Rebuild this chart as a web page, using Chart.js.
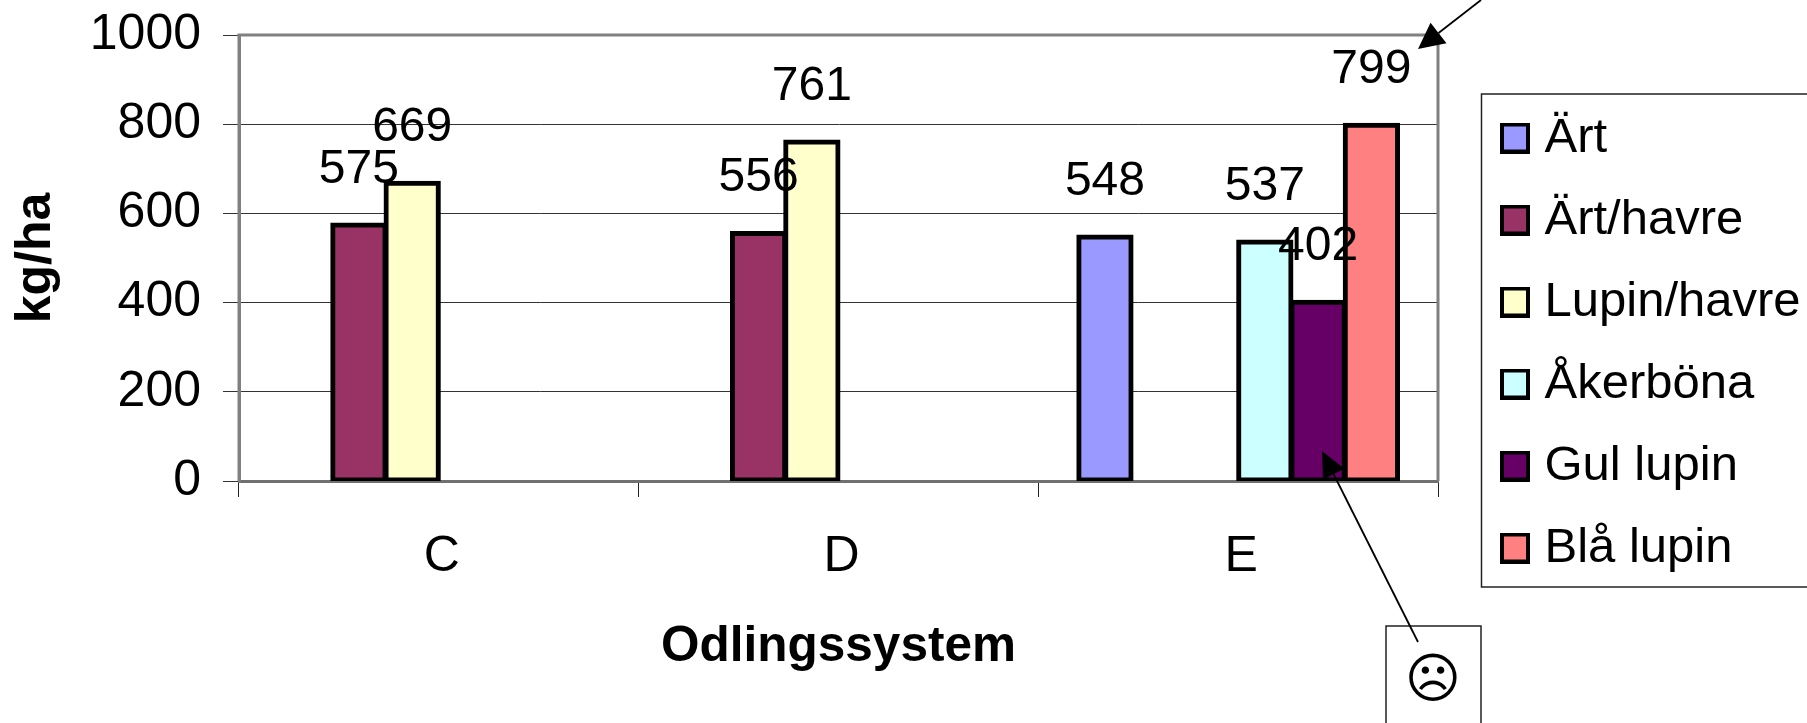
<!DOCTYPE html>
<html><head><meta charset="utf-8">
<style>html,body{margin:0;padding:0;background:#fff}canvas{display:block}</style>
<script src="https://cdn.jsdelivr.net/npm/chart.js@4"></script>
</head><body><canvas id="c" width="1807" height="723"></canvas>
<script>
const categories = ['C','D','E'];
const seriesNames = ['Ärt','Ärt/havre','Lupin/havre','Åkerböna','Gul lupin','Blå lupin'];
const art = [null,null,548];
const artHavre = [575,556,null];
const lupinHavre = [669,761,null];
const akerbona = [null,null,537];
const gulLupin = [null,null,402];
const blaLupin = [null,null,799];
const colors = ['#9999FF','#993366','#FFFFCC','#CCFFFF','#660066','#FF8080'];
const yTicks = [0,200,400,600,800,1000];
const FONT = '"Liberation Sans", Arial, sans-serif';

function swatch(color){
  const cv=document.createElement('canvas');cv.width=30;cv.height=31;
  const x=cv.getContext('2d');x.fillStyle=color;x.fillRect(0,0,30,31);
  x.strokeStyle='#000';x.lineWidth=4;x.strokeRect(2,2,26,27);return cv;
}
const swatches=colors.map(swatch);

function arrow(ctx,x0,y0,x1,y1,len,half){
  const a=Math.atan2(y1-y0,x1-x0);
  const bx=x1-len*Math.cos(a),by=y1-len*Math.sin(a);
  ctx.beginPath();ctx.moveTo(x0,y0);ctx.lineTo(bx,by);ctx.strokeStyle='#000';ctx.lineWidth=1.8;ctx.stroke();
  ctx.beginPath();ctx.moveTo(x1,y1);
  ctx.lineTo(bx-half*Math.sin(a),by+half*Math.cos(a));
  ctx.lineTo(bx+half*Math.sin(a),by-half*Math.cos(a));
  ctx.closePath();ctx.fillStyle='#000';ctx.fill();
}

const decor={
  id:'decor',
  afterLayout(chart){
    const l=chart.legend;
    l.left=1477;l.top=80.5;l.right=1807;l.bottom=640;l.width=330;l.height=560;
    if(l.adjustHitBoxes) l.adjustHitBoxes();
  },
  beforeDatasetsDraw(chart){
    const {ctx,chartArea:a}=chart;
    ctx.save();
    ctx.strokeStyle='#808080';ctx.lineWidth=3;
    ctx.beginPath();ctx.moveTo(a.left,a.bottom);ctx.lineTo(a.left,a.top);ctx.lineTo(a.right,a.top);ctx.lineTo(a.right,a.bottom);ctx.stroke();
    ctx.restore();
  },
  afterDraw(chart){
    const {ctx}=chart;
    ctx.save();
    ctx.font='48px '+FONT;ctx.fillStyle='#000';ctx.textAlign='center';ctx.textBaseline='middle';
    chart.data.datasets.forEach((d,i)=>{
      chart.getDatasetMeta(i).data.forEach((el,j)=>{
        if(d.data[j]==null)return;
        ctx.fillText(String(d.data[j]),el.x,el.y-55);
      });
    });
    ctx.strokeStyle='#222';ctx.lineWidth=1.5;
    ctx.strokeRect(1481.5,94,400,493);
    ctx.strokeRect(1386,626,95,200);
    ctx.font='54px "DejaVu Sans"';
    ctx.fillText('☹',1433,683);
    arrow(ctx,1481,0,1418,49,26,13);
    arrow(ctx,1418,642,1322,451,26,12);
    ctx.restore();
  }
};

const chart=new Chart(document.getElementById('c'),{
  type:'bar',
  data:{labels:categories,datasets:[art,artHavre,lupinHavre,akerbona,gulLupin,blaLupin].map((v,i)=>({
    label:seriesNames[i],data:v,backgroundColor:colors[i],borderColor:'#000',borderWidth:5,borderSkipped:false,inflateAmount:2,
    categoryPercentage:0.8,barPercentage:1
  }))},
  options:{
    responsive:false,animation:false,devicePixelRatio:1,
    layout:{padding:{left:0,top:35,right:369,bottom:0}},
    plugins:{
      tooltip:{enabled:false},title:{display:false},
      legend:{
        display:true,position:'chartArea',align:'start',
        labels:{
          usePointStyle:true,pointStyleWidth:10,boxHeight:49,padding:33,color:'#000',
          font:{family:FONT,size:49},
          generateLabels:c=>c.data.datasets.map((d,i)=>({text:d.label,datasetIndex:i,pointStyle:swatches[i],fillStyle:d.backgroundColor,strokeStyle:'#000',lineWidth:0,hidden:false}))
        }
      }
    },
    scales:{
      x:{
        afterFit:s=>{s.height=242;s.paddingLeft=0;s.paddingRight=0;},
        border:{color:'#707070',width:3},
        grid:{drawOnChartArea:false,drawTicks:true,tickLength:16,tickColor:'#222',tickWidth:1},
        ticks:{color:'#000',padding:30,maxRotation:0,labelOffset:3,font:{family:FONT,size:50}},
        title:{display:true,text:'Odlingssystem',color:'#000',font:{family:FONT,size:49.5,weight:'bold'},padding:{top:0,bottom:46}}
      },
      y:{
        min:0,max:1000,
        afterFit:s=>{s.width=239;s.paddingTop=0;s.paddingBottom=0;},
        afterBuildTicks:s=>{s.ticks=yTicks.map(v=>({value:v}));},
        border:{color:'#808080',width:3},
        grid:{color:'#333',lineWidth:1,tickLength:16,tickColor:'#333',tickWidth:1},
        ticks:{color:'#000',padding:22,font:{family:FONT,size:50},callback:v=>String(v)},
        title:{display:true,text:'kg/ha',color:'#000',font:{family:FONT,size:50,weight:'bold'},padding:{top:6,bottom:0}}
      }
    }
  },
  plugins:[decor]
});
</script></body></html>
